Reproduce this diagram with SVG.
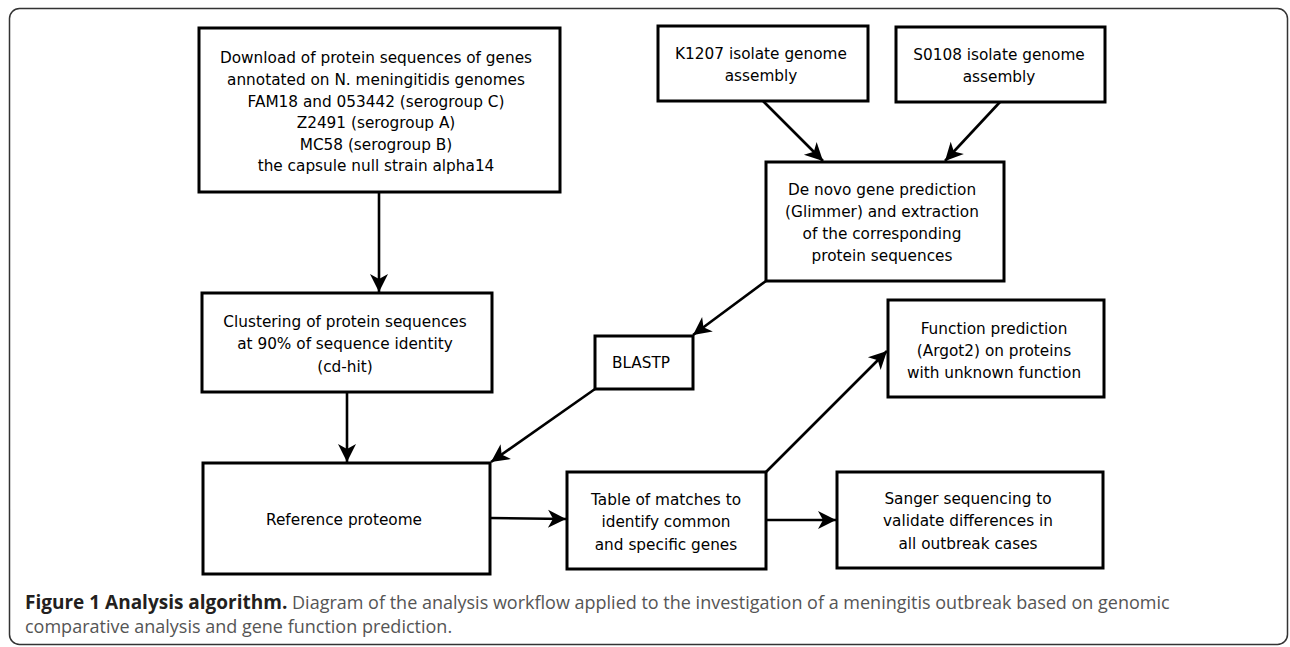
<svg xmlns="http://www.w3.org/2000/svg" width="1290" height="647" viewBox="0 0 1290 647">
<style>
.box{fill:#fff;stroke:#000;stroke-width:3}
.t{font-family:"DejaVu Sans",Verdana,sans-serif;font-size:15.3px;fill:#000;text-anchor:middle}
.c{stroke:#000;stroke-width:2.6;fill:none;marker-end:url(#ah)}
.cap{font-family:"Open Sans","Liberation Sans",sans-serif;font-size:18px;fill:#555}
.capb{font-weight:bold;font-size:19px;fill:#231f20}
</style>
<defs>
<marker id="ah" markerUnits="userSpaceOnUse" markerWidth="21" markerHeight="21" viewBox="-20 -10.5 21 21" refX="0" refY="0" orient="auto">
<path d="M0,0 L-18,-9 L-13,0 L-18,9 Z" fill="#000"/>
</marker>
</defs>
<rect x="9.5" y="8.5" width="1278" height="636" rx="10" fill="#fff" stroke="#333" stroke-width="1.5"/>
<g id="connectors">
<line class="c" x1="379" y1="192" x2="379" y2="292"/>
<line class="c" x1="347" y1="392" x2="347" y2="462"/>
<line class="c" x1="763" y1="101" x2="823" y2="161"/>
<line class="c" x1="1000" y1="102" x2="945" y2="161"/>
<line class="c" x1="766" y1="281" x2="693" y2="335"/>
<line class="c" x1="595" y1="389" x2="491" y2="462"/>
<line class="c" x1="490" y1="518" x2="566" y2="519"/>
<line class="c" x1="766" y1="472" x2="887" y2="351"/>
<line class="c" x1="766" y1="520" x2="836" y2="520"/>
</g>
<g id="download">
<rect class="box" x="199" y="28" width="361" height="164"/>
<text class="t" x="376" y="63">Download of protein sequences of genes</text>
<text class="t" x="376" y="85">annotated on N. meningitidis genomes</text>
<text class="t" x="376" y="107">FAM18 and 053442 (serogroup C)</text>
<text class="t" x="376" y="128">Z2491 (serogroup A)</text>
<text class="t" x="376" y="150">MC58 (serogroup B)</text>
<text class="t" x="376" y="171">the capsule null strain alpha14</text>
</g>
<g id="clustering">
<rect class="box" x="202" y="293" width="290" height="99"/>
<text class="t" x="345" y="327">Clustering of protein sequences</text>
<text class="t" x="345" y="349">at 90% of sequence identity</text>
<text class="t" x="345" y="372">(cd-hit)</text>
</g>
<g id="reference">
<rect class="box" x="203" y="463" width="287" height="111"/>
<text class="t" x="344" y="525">Reference proteome</text>
</g>
<g id="k1207">
<rect class="box" x="658" y="26" width="210" height="75"/>
<text class="t" x="761" y="59">K1207 isolate genome</text>
<text class="t" x="761" y="81">assembly</text>
</g>
<g id="s0108">
<rect class="box" x="896" y="27" width="209" height="75"/>
<text class="t" x="999" y="60">S0108 isolate genome</text>
<text class="t" x="999" y="82">assembly</text>
</g>
<g id="denovo">
<rect class="box" x="766" y="162" width="238" height="119"/>
<text class="t" x="882" y="195">De novo gene prediction</text>
<text class="t" x="882" y="217">(Glimmer) and extraction</text>
<text class="t" x="882" y="239">of the corresponding</text>
<text class="t" x="882" y="261">protein sequences</text>
</g>
<g id="blastp">
<rect class="box" x="595" y="336" width="98" height="53"/>
<text class="t" x="641" y="368">BLASTP</text>
</g>
<g id="function">
<rect class="box" x="888" y="300" width="216" height="97"/>
<text class="t" x="994" y="334">Function prediction</text>
<text class="t" x="994" y="356">(Argot2) on proteins</text>
<text class="t" x="994" y="378">with unknown function</text>
</g>
<g id="table">
<rect class="box" x="567" y="472" width="199" height="97"/>
<text class="t" x="666" y="505">Table of matches to</text>
<text class="t" x="666" y="527">identify common</text>
<text class="t" x="666" y="550">and specific genes</text>
</g>
<g id="sanger">
<rect class="box" x="837" y="472" width="266" height="96"/>
<text class="t" x="968" y="504">Sanger sequencing to</text>
<text class="t" x="968" y="526">validate differences in</text>
<text class="t" x="968" y="549">all outbreak cases</text>
</g>
<g id="caption">
<text class="cap" x="25" y="609"><tspan class="capb">Figure 1 Analysis algorithm.</tspan> Diagram of the analysis workflow applied to the investigation of a meningitis outbreak based on genomic</text>
<text class="cap" x="25" y="633">comparative analysis and gene function prediction.</text>
</g>
</svg>
